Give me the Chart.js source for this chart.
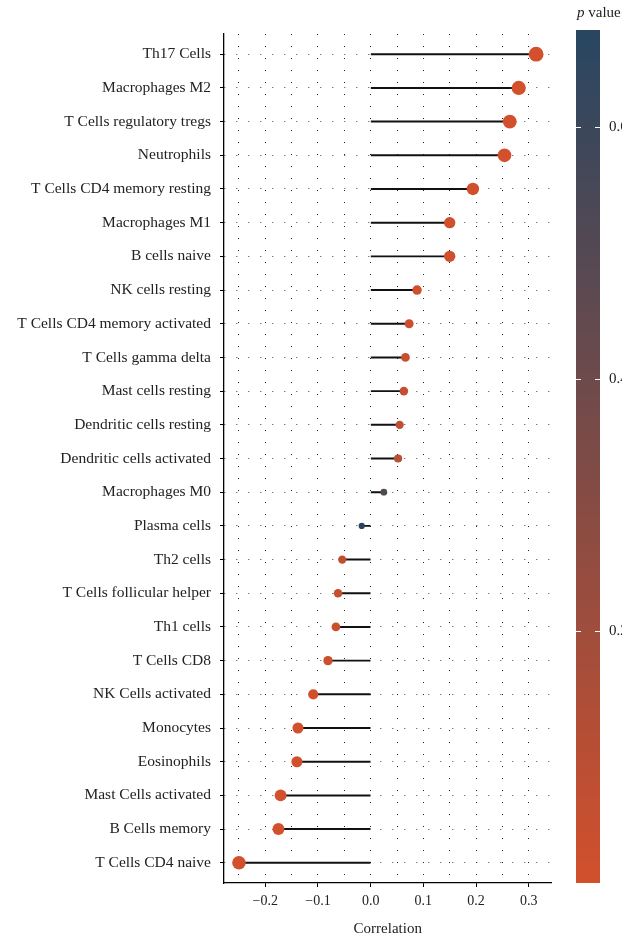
<!DOCTYPE html>
<html>
<head>
<meta charset="utf-8">
<script src="https://cdn.jsdelivr.net/npm/chart.js@4/dist/chart.umd.min.js"></script>
<style>
  html, body { margin: 0; padding: 0; background: #fff; }
  #wrap { width: 622px; height: 940px; position: relative; }
</style>
</head>
<body>
<div id="wrap"><canvas id="c" width="622" height="940"></canvas></div>
<script>
// Immune cell types, ordered from strongest positive to strongest negative correlation
const categories = [
  'Th17 Cells', 'Macrophages M2', 'T Cells regulatory tregs', 'Neutrophils',
  'T Cells CD4 memory resting', 'Macrophages M1', 'B cells naive', 'NK cells resting',
  'T Cells CD4 memory activated', 'T Cells gamma delta', 'Mast cells resting',
  'Dendritic cells resting', 'Dendritic cells activated', 'Macrophages M0',
  'Plasma cells', 'Th2 cells', 'T Cells follicular helper', 'Th1 cells',
  'T Cells CD8', 'NK Cells activated', 'Monocytes', 'Eosinophils',
  'Mast Cells activated', 'B Cells memory', 'T Cells CD4 naive'
];

const correlation = [
  0.314, 0.281, 0.264, 0.254,
  0.194, 0.150, 0.150, 0.088,
  0.073, 0.066, 0.063,
  0.055, 0.052, 0.025,
  -0.017, -0.054, -0.062, -0.066,
  -0.081, -0.109, -0.138, -0.140,
  -0.171, -0.175, -0.250
];

const pValues = [
  0.0001, 0.0003, 0.0005, 0.0008,
  0.003, 0.012, 0.012, 0.008,
  0.024, 0.040, 0.050,
  0.075, 0.100, 0.500,
  0.677, 0.072, 0.050, 0.036,
  0.020, 0.005, 0.001, 0.001,
  0.0002, 0.0002, 0.00001
];

const xTicks = [-0.25, -0.2, -0.15, -0.1, -0.05, 0, 0.05, 0.1, 0.15, 0.2, 0.25, 0.3];
const pTicks = [0.2, 0.4, 0.6];

const SERIF = '"Liberation Serif", "DejaVu Serif", serif';
const LOW = [210, 80, 44];    // small p value
const HIGH = [40, 70, 97];    // large p value
const pMin = Math.min(...pValues);
const pMax = Math.max(...pValues);

function pColor(p) {
  const t = Math.max(0, Math.min(1, (p - pMin) / (pMax - pMin)));
  const c = LOW.map((v, i) => Math.round(v + (HIGH[i] - v) * t));
  return `rgb(${c[0]},${c[1]},${c[2]})`;
}
function dotRadius(r) {
  return 1.8 + 10 * Math.sqrt(Math.abs(r));
}
function fmt(v) {
  const s = Math.abs(v).toFixed(1);
  return v < -1e-9 ? '\u2212' + s : s;
}

// Colour bar legend for p value, drawn to the right of the plot
const colorBar = {
  id: 'colorBar',
  afterDraw(chart) {
    const ctx = chart.ctx;
    const x0 = 576, w = 24, top = 30, bottom = 883;
    const g = ctx.createLinearGradient(0, top, 0, bottom);
    g.addColorStop(0, pColor(pMax));
    g.addColorStop(1, pColor(pMin));
    ctx.save();
    ctx.fillStyle = g;
    ctx.fillRect(x0, top, w, bottom - top);
    ctx.strokeStyle = '#fff';
    ctx.lineWidth = 1;
    ctx.font = '15px ' + SERIF;
    ctx.fillStyle = '#222';
    ctx.textBaseline = 'middle';
    ctx.textAlign = 'left';
    pTicks.forEach(p => {
      const y = Math.round(bottom - (p - pMin) / (pMax - pMin) * (bottom - top)) + 0.5;
      ctx.beginPath();
      ctx.moveTo(x0, y); ctx.lineTo(x0 + 5, y);
      ctx.moveTo(x0 + w - 5, y); ctx.lineTo(x0 + w, y);
      ctx.stroke();
      ctx.fillText(p.toFixed(1), 609, y);
    });
    // title: italic "p" followed by "value"
    ctx.textBaseline = 'alphabetic';
    ctx.font = 'italic 15px ' + SERIF;
    ctx.fillText('p', 577, 17);
    const pw = ctx.measureText('p ').width;
    ctx.font = '15px ' + SERIF;
    ctx.fillText('value', 577 + pw, 17);
    ctx.restore();
  }
};

new Chart(document.getElementById('c'), {
  data: {
    datasets: [
      {
        type: 'scatter',
        order: 1,
        data: correlation.map((v, i) => ({ x: v, y: i })),
        backgroundColor: pValues.map(pColor),
        pointRadius: correlation.map(dotRadius),
        pointHoverRadius: correlation.map(dotRadius),
        borderWidth: 0
      },
      {
        type: 'bar',
        order: 2,
        indexAxis: 'y',
        data: correlation.map((v, i) => ({ x: [0, v], y: i })),
        backgroundColor: '#111',
        borderWidth: 0,
        barThickness: 1.3,
        grouped: false
      }
    ]
  },
  options: {
    responsive: false,
    animation: false,
    events: [],
    layout: { padding: { top: 34, right: 70.5, left: 0, bottom: 0 } },
    plugins: { legend: { display: false }, tooltip: { enabled: false } },
    scales: {
      x: {
        type: 'linear',
        offset: false,
        min: -0.2784,
        max: 0.3432,
        afterBuildTicks(s) { s.ticks = xTicks.map(v => ({ value: v })); },
        afterFit(s) { s.height = 57; },
        ticks: {
          font: { family: SERIF, size: 14 },
          color: '#222',
          padding: 6,
          autoSkip: false,
          maxRotation: 0,
          callback(v) { return Math.round(v * 100) % 10 === 0 ? fmt(v) : ''; }
        },
        grid: {
          offset: false,
          color: '#222',
          lineWidth: 1,
          tickLength: 4,
          tickWidth: 1,
          tickColor(ctx) {
            const t = ctx.tick;
            if (!t) return 'rgba(0,0,0,0)';
            return Math.round(t.value * 100) % 10 === 0 ? '#000' : 'rgba(0,0,0,0)';
          }
        },
        border: { display: true, color: '#000', width: 1.3, dash: [1, 11] },
        title: {
          display: true,
          text: 'Correlation',
          font: { family: SERIF, size: 15 },
          color: '#222',
          padding: { top: 2, bottom: 2 }
        }
      },
      y: {
        type: 'linear',
        offset: false,
        reverse: true,
        min: -0.6,
        max: 24.6,
        afterBuildTicks(s) { s.ticks = categories.map((_, i) => ({ value: i })); },
        afterFit(s) { s.width = 224; },
        ticks: {
          font: { family: SERIF, size: 15.5 },
          color: '#222',
          padding: 9,
          autoSkip: false,
          callback(v) { return categories[v] ?? ''; }
        },
        grid: {
          offset: false,
          color: '#444',
          lineWidth: 1,
          tickLength: 4,
          tickWidth: 1,
          tickColor: '#000'
        },
        border: { display: true, color: '#000', width: 1.3, dash: [1, 11] }
      }
    }
  },
  plugins: [colorBar]
});
</script>
</body>
</html>
